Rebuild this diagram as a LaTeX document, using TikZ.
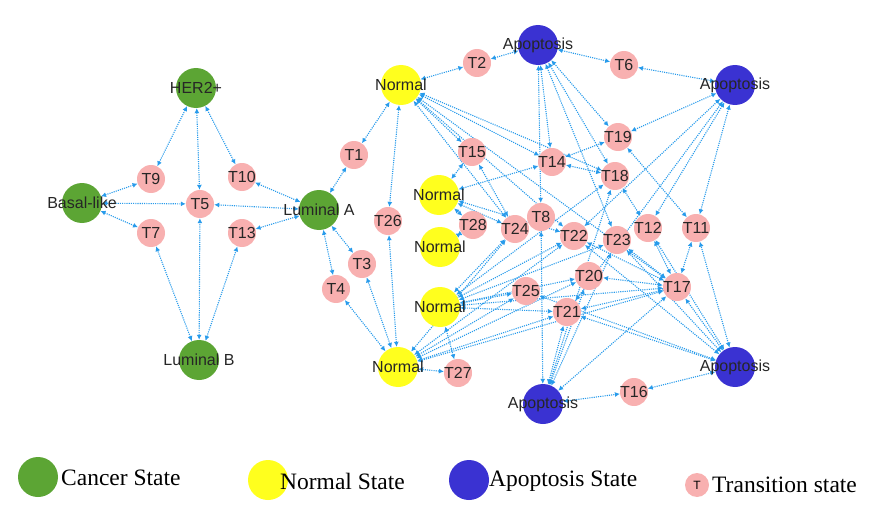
\documentclass[tikz,border=0pt]{standalone}
\usepackage{fontspec}
\usetikzlibrary{arrows.meta,backgrounds}
\newfontfamily\arialf{Liberation Sans}
\newfontfamily\timesf{Liberation Serif}
\definecolor{cgreen}{RGB}{92,165,52}
\definecolor{nyellow}{RGB}{255,255,30}
\definecolor{ablue}{RGB}{58,50,210}
\definecolor{tpink}{RGB}{248,176,176}
\definecolor{edgeblue}{RGB}{40,155,235}
\tikzset{
  st/.style={circle, minimum size=40pt, inner sep=0pt},
  cancer/.style={st, fill=cgreen},
  normal/.style={st, fill=nyellow},
  apop/.style={st, fill=ablue},
  tr/.style={circle, fill=tpink, minimum size=28pt, inner sep=0pt},
  lab/.style={label={[font=\arialf\fontsize{16}{16}\selectfont, text=black!85, inner sep=0pt]center:#1}},
  link/.style={draw=edgeblue, line width=1.1pt, dash pattern=on 1.1pt off 1.1pt,
    {Latex[length=5pt,width=5pt]}-{Latex[length=5pt,width=5pt]}},
  legtext/.style={font=\timesf\fontsize{23.5}{24}\selectfont, anchor=west, inner sep=0pt}
}
\begin{document}
\begin{tikzpicture}[x=1pt,y=-1pt]
\useasboundingbox (0,0) rectangle (871,511);
% cancer states
\node[cancer,lab={HER2+}] (her) at (196,88) {};
\node[cancer,lab={Basal-like}] (bas) at (82,203) {};
\node[cancer,lab={Luminal A}] (lua) at (319,210) {};
\node[cancer,lab={Luminal B}] (lub) at (199,360) {};
% normal states
\node[normal,lab={Normal}] (n1) at (401,85) {};
\node[normal,lab={Normal}] (n2) at (439,195) {};
\node[normal,lab={Normal}] (n3) at (440,247) {};
\node[normal,lab={Normal}] (n4) at (440,307) {};
\node[normal,lab={Normal}] (n5) at (398,367) {};
% apoptosis states
\node[apop,lab={Apoptosis}] (a1) at (538,45) {};
\node[apop,lab={Apoptosis}] (a2) at (735,85) {};
\node[apop,lab={Apoptosis}] (a3) at (543,404) {};
\node[apop,lab={Apoptosis}] (a4) at (735,367) {};
% transition states
\node[tr,lab={T1}] (t1) at (354,155) {};
\node[tr,lab={T2}] (t2) at (477,63) {};
\node[tr,lab={T3}] (t3) at (362,264) {};
\node[tr,lab={T4}] (t4) at (336,289) {};
\node[tr,lab={T5}] (t5) at (200,204) {};
\node[tr,lab={T6}] (t6) at (624,65) {};
\node[tr,lab={T7}] (t7) at (151,233) {};
\node[tr,lab={T8}] (t8) at (541,217) {};
\node[tr,lab={T9}] (t9) at (151,179) {};
\node[tr,lab={T10}] (t10) at (242,177) {};
\node[tr,lab={T11}] (t11) at (696,228) {};
\node[tr,lab={T12}] (t12) at (648,228) {};
\node[tr,lab={T13}] (t13) at (242,233) {};
\node[tr,lab={T14}] (t14) at (552,162) {};
\node[tr,lab={T15}] (t15) at (472,152) {};
\node[tr,lab={T16}] (t16) at (634,392) {};
\node[tr,lab={T17}] (t17) at (677,287) {};
\node[tr,lab={T18}] (t18) at (615,176) {};
\node[tr,lab={T19}] (t19) at (618,137) {};
\node[tr,lab={T20}] (t20) at (589,276) {};
\node[tr,lab={T21}] (t21) at (567,312) {};
\node[tr,lab={T22}] (t22) at (574,236) {};
\node[tr,lab={T23}] (t23) at (617,240) {};
\node[tr,lab={T24}] (t24) at (515,229) {};
\node[tr,lab={T25}] (t25) at (526,291) {};
\node[tr,lab={T26}] (t26) at (388,221) {};
\node[tr,lab={T27}] (t27) at (458,373) {};
\node[tr,lab={T28}] (t28) at (473,225) {};
% edges
\begin{scope}[on background layer]
\foreach \a/\b in {her/t9,her/t5,her/t10,bas/t9,bas/t5,bas/t7,lub/t7,lub/t5,lub/t13,
  lua/t10,lua/t5,lua/t13,lua/t1,lua/t4,lua/t3,
  n1/t1,n1/t26,n5/t26,n5/t4,n5/t3,
  n1/t2,t2/a1,a1/t6,t6/a2,
  n1/t15,n1/t24,n1/t14,n1/t18,n1/t22,n1/t17,
  t15/n2,t15/t24,
  a1/t14,a1/t8,a1/t18,a1/t19,a1/t23,
  a2/t19,a2/t22,a2/t12,a2/t11,a2/t21,
  t14/t19,t14/t18,t14/n2,
  n2/t24,n2/t28,n2/t22,t28/n3,
  n4/t24,n4/t22,n4/t18,n4/t25,n4/t21,n4/t20,n4/t17,n4/t27,n4/t23,
  n5/t24,n5/t22,n5/t20,n5/t21,n5/t17,n5/t27,n5/t25,
  t8/a3,
  a3/t21,a3/t20,a3/t17,a3/t18,a3/t16,a3/t23,
  a4/t16,a4/t17,a4/t11,a4/t12,a4/t21,a4/t25,a4/t22,a4/t23,
  t17/t23,t17/t12,t17/t11,t17/t20,t17/t21,t17/t22,
  t11/t19,t12/t18}
  \draw[link] (\a) -- (\b);
\end{scope}
% legend
\node[circle, fill=cgreen, minimum size=40pt, inner sep=0pt] (lg1) at (38,477) {};
\node[legtext] (lt1) at (61,478) {Cancer State};
\node[circle, fill=nyellow, minimum size=40pt, inner sep=0pt] (lg2) at (268,480) {};
\node[legtext] (lt2) at (280,481) {Normal State};
\node[circle, fill=ablue, minimum size=40pt, inner sep=0pt] (lg3) at (469,480) {};
\node[legtext] (lt3) at (489,481) {Apoptosis State};
\node[circle, fill=tpink, minimum size=24pt, inner sep=0pt, font=\arialf\fontsize{12}{12}\selectfont] (lg4) at (697,485) {T};
\node[legtext] (lt4) at (712,485) {Transition state};
\end{tikzpicture}
\end{document}
